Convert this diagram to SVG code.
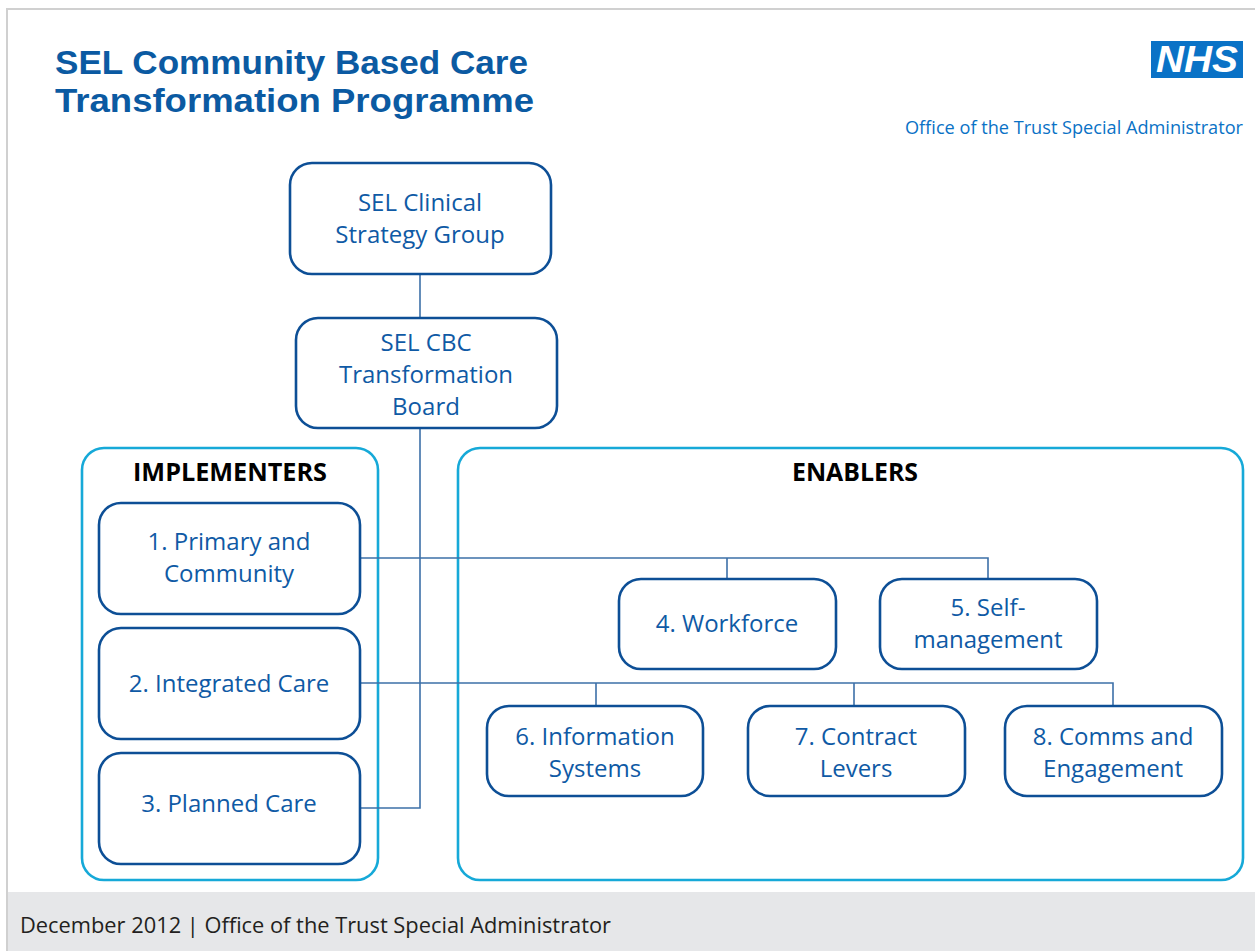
<svg xmlns="http://www.w3.org/2000/svg" width="1255" height="951" viewBox="0 0 1255 951">
<style>
.node{fill:#fff;stroke:#0d4f96;stroke-width:2.6}
.grp{fill:#fff;stroke:#16a9d8;stroke-width:2.6}
.nt{font-family:"Open Sans","Noto Sans","Liberation Sans",sans-serif;font-size:24px;fill:#0f5aa5;text-anchor:middle}
.gt{font-family:"Open Sans","Noto Sans","Liberation Sans",sans-serif;font-size:25px;font-weight:bold;fill:#000;text-anchor:middle}
.conn{fill:none;stroke:#3d70a8;stroke-width:1.6}
</style>
<rect x="0" y="0" width="1255" height="951" fill="#fff"/>
<path d="M7 951 V9 H1255" fill="none" stroke="#d0d0d0" stroke-width="2"/>
<rect x="8" y="892" width="1247" height="59" fill="#e6e7e9"/>
<text x="20" y="933" font-family="'Open Sans','Noto Sans','Liberation Sans',sans-serif" font-size="22" fill="#231f20" textLength="591" lengthAdjust="spacingAndGlyphs">December 2012 | Office of the Trust Special Administrator</text>
<g id="title" font-family="'Liberation Sans',Arial,sans-serif" font-weight="bold" font-size="33.5" fill="#0b5aa2">
<text x="55" y="74" textLength="473" lengthAdjust="spacingAndGlyphs">SEL Community Based Care</text>
<text x="55" y="112" textLength="479" lengthAdjust="spacingAndGlyphs">Transformation Programme</text>
</g>
<g id="nhs-logo">
<rect x="1151" y="41" width="92" height="37" fill="#0a72c6"/>
<text x="1197" y="72" font-family="'Liberation Sans',Arial,sans-serif" font-weight="bold" font-style="italic" font-size="36" fill="#fff" text-anchor="middle" textLength="82" lengthAdjust="spacingAndGlyphs">NHS</text>
</g>
<text x="1243" y="134" font-family="'Open Sans','Noto Sans','Liberation Sans',sans-serif" font-size="17.5" fill="#0a72c6" text-anchor="end" textLength="338" lengthAdjust="spacingAndGlyphs">Office of the Trust Special Administrator</text>

<g id="implementers"><rect class="grp" x="82" y="448" width="296" height="432" rx="22"/><text class="gt" x="230" y="481" textLength="194" lengthAdjust="spacingAndGlyphs">IMPLEMENTERS</text></g>
<g id="enablers"><rect class="grp" x="458" y="448" width="785" height="432" rx="22"/><text class="gt" x="855" y="481" textLength="126" lengthAdjust="spacingAndGlyphs">ENABLERS</text></g>

<g id="connectors">
<path class="conn" d="M420 274 V318"/>
<path class="conn" d="M420 428 V808 H360"/>
<path class="conn" d="M360 558 H988 V579 M727 558 V579"/>
<path class="conn" d="M360 683 H1113 V706 M596 683 V706 M854 683 V706"/>
</g>

<g id="n-csg"><rect class="node" x="290" y="163" width="261" height="111" rx="22"/><text class="nt" x="420" y="211">SEL Clinical</text><text class="nt" x="420" y="243">Strategy Group</text></g>
<g id="n-board"><rect class="node" x="296" y="318" width="261" height="110" rx="22"/><text class="nt" x="426" y="351">SEL CBC</text><text class="nt" x="426" y="383">Transformation</text><text class="nt" x="426" y="415">Board</text></g>
<g id="n1"><rect class="node" x="99" y="503" width="261" height="111" rx="22"/><text class="nt" x="229" y="550">1. Primary and</text><text class="nt" x="229" y="582">Community</text></g>
<g id="n2"><rect class="node" x="99" y="628" width="261" height="111" rx="22"/><text class="nt" x="229" y="692">2. Integrated Care</text></g>
<g id="n3"><rect class="node" x="99" y="753" width="261" height="111" rx="22"/><text class="nt" x="229" y="812">3. Planned Care</text></g>
<g id="n4"><rect class="node" x="619" y="579" width="217" height="90" rx="22"/><text class="nt" x="727" y="632">4. Workforce</text></g>
<g id="n5"><rect class="node" x="880" y="579" width="217" height="90" rx="22"/><text class="nt" x="988" y="616">5. Self-</text><text class="nt" x="988" y="648">management</text></g>
<g id="n6"><rect class="node" x="487" y="706" width="216" height="90" rx="22"/><text class="nt" x="595" y="745">6. Information</text><text class="nt" x="595" y="777">Systems</text></g>
<g id="n7"><rect class="node" x="748" y="706" width="217" height="90" rx="22"/><text class="nt" x="856" y="745">7. Contract</text><text class="nt" x="856" y="777">Levers</text></g>
<g id="n8"><rect class="node" x="1005" y="706" width="217" height="90" rx="22"/><text class="nt" x="1113" y="745">8. Comms and</text><text class="nt" x="1113" y="777">Engagement</text></g>
</svg>
